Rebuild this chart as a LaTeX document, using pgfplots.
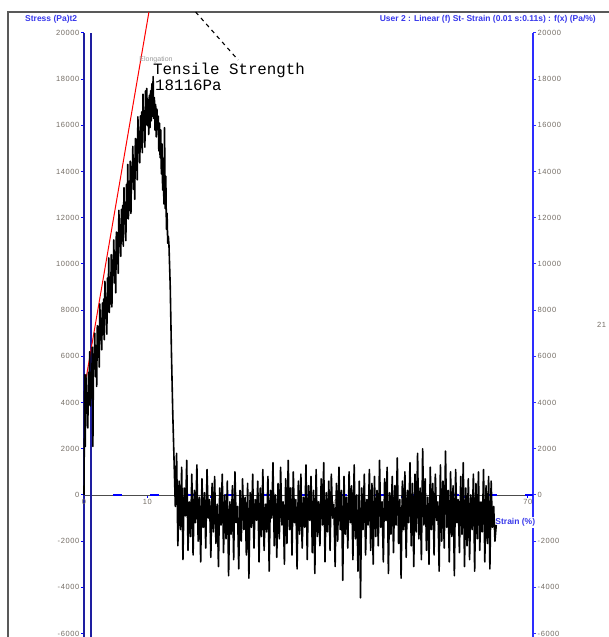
\documentclass[border=0pt]{standalone}
\usepackage{fontspec}
\setmainfont{Liberation Sans}
\newfontfamily\tickfont[LetterSpace=8]{Liberation Sans}
\newfontfamily\monofont{Liberation Mono}
\usepackage{pgfplots}
\pgfplotsset{compat=1.18}
\definecolor{navy}{RGB}{30,30,160}
\definecolor{brightblue}{RGB}{45,45,255}
\definecolor{titleblue}{RGB}{55,55,235}
\definecolor{ticklab}{RGB}{115,108,100}
\begin{document}
\begin{tikzpicture}
\useasboundingbox (0,0) rectangle (608pt,637pt);
% outer window frame
\draw[black!65, line width=1.3pt] (8pt,-5pt) -- (8pt,625pt) -- (620pt,625pt);
% right axis
\begin{axis}[
  at={(84pt,0pt)}, anchor=south west, scale only axis,
  width=449pt, height=604pt,
  xmin=0, xmax=70.8, ymin=-6150, ymax=20000,
  axis y line=right, axis x line=none,
  axis line style={-, brightblue, line width=1.4pt},
  scaled y ticks=false, scaled x ticks=false,
  ytick={-6000,-4000,-2000,0,2000,4000,6000,8000,10000,12000,14000,16000,18000,20000},
  yticklabels={-6000,-4000,-2000,0,2000,4000,6000,8000,10000,12000,14000,16000,18000,20000},
  tick style={brightblue, line width=1pt}, tick align=outside, major tick length=3pt,
  yticklabel style={font=\tickfont\fontsize{7.5}{8}\selectfont, text=ticklab, inner sep=1.5pt},
]
\addplot[draw=none] coordinates {(0,0)};
\end{axis}
% main axis
\begin{axis}[
  at={(84pt,0pt)}, anchor=south west, scale only axis,
  width=449pt, height=604pt,
  xmin=0, xmax=70.8, ymin=-6150, ymax=20000,
  axis x line=middle, axis y line=left,
  axis line style={-},
  x axis line style={black!70, line width=0.6pt},
  y axis line style={navy, line width=1.4pt},
  scaled y ticks=false, scaled x ticks=false,
  hide obscured x ticks=false, hide obscured y ticks=false,
  xtick={0,10,20,30,40,50,60,70},
  xticklabels={0,10,20,30,40,50,60,70},
  ytick={-6000,-4000,-2000,0,2000,4000,6000,8000,10000,12000,14000,16000,18000,20000},
  yticklabels={-6000,-4000,-2000,0,2000,4000,6000,8000,10000,12000,14000,16000,18000,20000},
  tick style={blue, line width=1pt}, tick align=outside, major tick length=3pt,
  xticklabel style={font=\tickfont\fontsize{7.5}{8}\selectfont, text=ticklab, inner sep=1.5pt},
  yticklabel style={font=\tickfont\fontsize{7.5}{8}\selectfont, text=ticklab, inner sep=1.5pt},
  clip=false,
]
% blue dashed zero line
\addplot[blue, line width=1.2pt, dash pattern=on 9pt off 28.5pt] coordinates {(4.57,0) (70.8,0)};
% second vertical blue line
\addplot[navy, line width=1.4pt] coordinates {(1.1,-6150) (1.1,20000)};
% x label with white background
\node[fill=white, inner sep=1.5pt, anchor=base east, font=\bfseries\fontsize{8.5}{9}\selectfont, text=titleblue] at (axis cs:71.4,-1300) {Strain (\%)};
% red linear fit
\addplot[red, line width=1pt] coordinates {(0.3,5000) (10.24,20909)};
% dashed annotation leader
\addplot[black, line width=1.1pt, dash pattern=on 4pt off 4pt] coordinates {(17.6,20909) (24.3,18831)};
% stress-strain data
\addplot[black, line width=1.6pt, line join=round] coordinates {
(0,0) (0.1,5200) (0.2,2100) (0.3,5200) (0.4,3600) (0.5,4400) (0.6,2900) (0.7,5300) (0.8,3900) (0.9,6200)
(1.0,3850) (1.1,5300) (1.2,4200) (1.3,6400) (1.4,2100) (1.5,6100) (1.6,5460) (1.7,7000) (1.8,5130) (1.9,6460)
(2.0,4700) (2.1,7330) (2.2,5970) (2.3,7300) (2.4,5540) (2.5,8270) (2.6,6710) (2.7,7640) (2.8,6280) (2.9,8310)
(3.0,6950) (3.1,8480) (3.2,6720) (3.3,9250) (3.4,7690) (3.5,8420) (3.6,6960) (3.7,9390) (3.8,7930) (3.9,10260)
(4.0,7900) (4.1,9330) (4.2,8270) (4.3,10400) (4.4,8140) (4.5,10170) (4.6,9510) (4.7,11040) (4.8,9180) (4.9,10510)
(5.0,8750) (5.1,11380) (5.2,10020) (5.3,11350) (5.4,9590) (5.5,12320) (5.6,10760) (5.7,11690) (5.8,10330) (5.9,12360)
(6.0,11000) (6.1,12530) (6.2,10770) (6.3,13300) (6.4,11740) (6.5,12470) (6.6,11010) (6.7,13440) (6.8,11980) (6.9,14310)
(7.0,11950) (7.1,13380) (7.2,12320) (7.3,14450) (7.4,12190) (7.5,14220) (7.6,13560) (7.7,15090) (7.8,13230) (7.9,14560)
(8.0,12800) (8.1,15430) (8.2,14070) (8.3,15400) (8.4,13640) (8.5,16370) (8.6,14810) (8.7,15740) (8.8,14380) (8.9,16410)
(9.0,15050) (9.1,16580) (9.2,14820) (9.3,17350) (9.4,15790) (9.5,16520) (9.6,15060) (9.7,17490) (9.8,16030) (9.9,17600)
(10.0,16000) (10.1,17100) (10.2,15600) (10.3,17300) (10.4,15900) (10.5,17500) (10.6,16200) (10.7,17800) (10.8,16400) (10.9,18116)
(11.0,16300) (11.1,17200) (11.2,15800) (11.3,16900) (11.4,15500) (11.5,16700) (11.6,15900) (11.7,16400) (11.8,14900) (11.9,16100)
(12.0,14600) (12.1,15800) (12.2,13900) (12.3,15200) (12.4,13200) (12.5,14500) (12.6,12600) (12.7,15900) (12.8,12400) (12.9,13800)
(13.0,11500) (13.1,12200) (13.2,10900) (13.3,11200) (13.4,10800) (13.6,9000) (13.8,6000) (14.0,3500) (14.2,1500) (14.4,-500)
(14.6,1800) (14.8,-2200) (15.0,600) (15.2,-1500) (15.4,1200) (15.6,-2800) (15.8,300) (16.0,-900) (16.2,1500) (16.4,-2400)
(16.6,-300) (16.8,-1800) (17.0,900) (17.2,-2600) (17.4,200) (17.6,-1200) (17.8,1300) (18.0,-2000) (18.2,-100) (18.4,-2900)
(18.6,700) (18.8,-1400) (19.0,100) (19.2,-2300) (19.4,1100) (19.6,-1000) (19.8,-200) (20.0,-2700) (20.2,500) (20.4,-1600)
(20.6,800) (20.8,-2100) (21.0,-400) (21.2,-3100) (21.4,300) (21.6,-1300) (21.8,900) (22.0,-2500) (22.2,0) (22.4,-1900)
(22.6,600) (22.8,-3500) (23.0,-300) (23.2,-1700) (23.4,400) (23.6,-2800) (23.8,1000) (24.0,-1200) (24.2,-500) (24.4,-3200)
(24.6,200) (24.8,-2000) (25.0,700) (25.2,-1500) (25.4,-100) (25.6,-2600) (25.8,500) (26.0,-3600) (26.2,100) (26.4,-1400)
(26.6,900) (26.8,-2300) (27.0,-200) (27.2,-1100) (27.4,600) (27.6,-2900) (27.8,300) (28.0,-1800) (28.2,1100) (28.4,-2400)
(28.6,-400) (28.8,-1600) (29.0,800) (29.2,-3300) (29.4,200) (29.6,-1000) (29.8,1400) (30.0,-2200) (30.2,0) (30.4,-2700)
(30.6,500) (30.8,-1900) (31.0,1200) (31.2,-1300) (31.4,-300) (31.6,-3000) (31.8,700) (32.0,-2100) (32.2,1500) (32.4,-1500)
(32.6,300) (32.8,-2600) (33.0,1000) (33.2,-1200) (33.4,-200) (33.6,-3200) (33.8,600) (34.0,-1700) (34.2,900) (34.4,-2300)
(34.6,-100) (34.8,-1400) (35.0,1300) (35.2,-2800) (35.4,400) (35.6,-1100) (35.8,800) (36.0,-2500) (36.2,200) (36.4,-3400)
(36.6,1100) (36.8,-1800) (37.0,-300) (37.2,-2200) (37.4,700) (37.6,-1300) (37.8,1400) (38.0,-2900) (38.2,100) (38.4,-1600)
(38.6,600) (38.8,-2400) (39.0,900) (39.2,-1000) (39.4,-400) (39.6,-3100) (39.8,500) (40.0,-2000) (40.2,1200) (40.4,-1500)
(40.6,200) (40.8,-3700) (41.0,800) (41.2,-1700) (41.4,-100) (41.6,-2300) (41.8,1000) (42.0,-1200) (42.2,400) (42.4,-2800)
(42.6,1300) (42.8,-1900) (43.0,0) (43.2,-3300) (43.4,600) (43.6,-4450) (43.8,300) (44.0,-1500) (44.2,900) (44.4,-2600)
(44.6,-200) (44.8,-1300) (45.0,1100) (45.2,-2400) (45.4,500) (45.6,-3000) (45.8,800) (46.0,-1800) (46.2,200) (46.4,-2200)
(46.6,1500) (46.8,-1400) (47.0,-300) (47.2,-2900) (47.4,700) (47.6,-1100) (47.8,1200) (48.0,-3400) (48.2,100) (48.4,-1700)
(48.6,800) (48.8,-2500) (49.0,400) (49.2,-1300) (49.4,1600) (49.6,-2100) (49.8,-200) (50.0,-3600) (50.2,600) (50.4,-1500)
(50.6,1000) (50.8,-2700) (51.0,200) (51.2,-1200) (51.4,1400) (51.6,-2200) (51.8,500) (52.0,-3100) (52.2,900) (52.4,-1600)
(52.6,1800) (52.8,-1900) (53.0,300) (53.2,-2800) (53.4,2000) (53.6,-1300) (53.8,700) (54.0,-2400) (54.2,-100) (54.4,-3000)
(54.6,1200) (54.8,-1500) (55.0,500) (55.2,-2600) (55.4,900) (55.6,-1100) (55.8,-300) (56.0,-3300) (56.2,1300) (56.4,-2000)
(56.6,600) (56.8,-2300) (57.0,1900) (57.2,-1400) (57.4,200) (57.6,-2900) (57.8,1000) (58.0,-1800) (58.2,400) (58.4,-3500)
(58.6,1100) (58.8,-1200) (59.0,-200) (59.2,-2500) (59.4,800) (59.6,-1700) (59.8,1400) (60.0,-3100) (60.2,300) (60.4,-2200)
(60.6,700) (60.8,-2800) (61.0,0) (61.2,-1500) (61.4,900) (61.6,-3300) (61.8,500) (62.0,-1900) (62.2,1000) (62.4,-2400)
(62.6,-300) (62.8,-1600) (63.0,1100) (63.2,-2900) (63.4,400) (63.6,-2100) (63.8,800) (64.0,-3200) (64.2,600) (64.4,-1400)
(64.6,-500) (64.8,-2000) (65.0,-1300)
};
\end{axis}
% titles and annotations
\node[anchor=base west, font=\bfseries\fontsize{8.5}{9}\selectfont, text=titleblue, inner sep=0pt] at (25pt,615pt) {Stress (Pa)t2};
\node[anchor=base east, font=\bfseries\fontsize{8.5}{9}\selectfont, text=titleblue, inner sep=0pt] at (596pt,615pt) {User 2 : Linear (f) St- Strain (0.01 s:0.11s) : f(x) (Pa/\%)};
\node[anchor=center, font=\fontsize{7}{8}\selectfont, text=black!40, inner sep=0pt] at (156pt,577pt) {Elongation};
\node[anchor=base west, font=\monofont\fontsize{15.8}{16}\selectfont, inner sep=0pt] at (153pt,562pt) {Tensile Strength};
\node[anchor=base west, font=\monofont\fontsize{15.8}{16}\selectfont, inner sep=0pt] at (155pt,546pt) {18116Pa};
\node[anchor=base west, font=\tickfont\fontsize{7.5}{8}\selectfont, text=ticklab, inner sep=0pt] at (597pt,309pt) {21};
\end{tikzpicture}
\end{document}
